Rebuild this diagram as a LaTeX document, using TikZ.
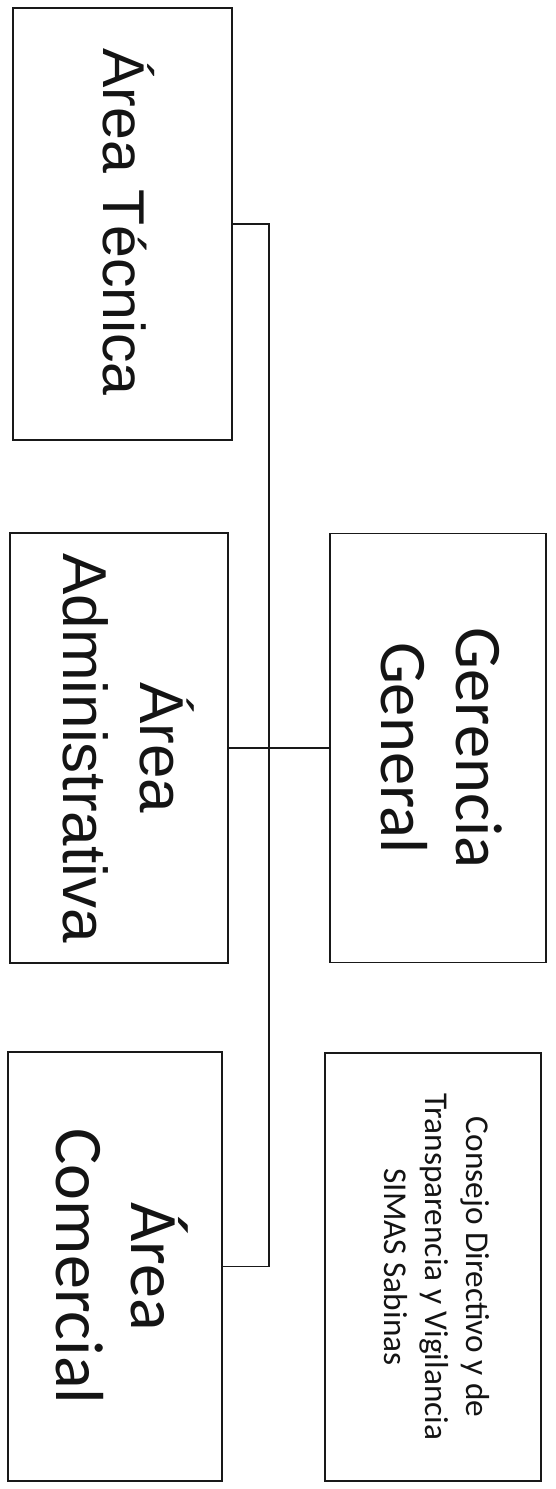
\documentclass[tikz,border=0pt]{standalone}
\usepackage{fontspec}
\newfontfamily\arialf{Liberation Sans}
\newfontfamily\calibrif{Carlito}
\begin{document}
\begin{tikzpicture}[x=1pt,y=-1pt,
  orgbox/.style={draw=black!90, line width=1.6pt, rectangle, rotate=-90,
    minimum width=#1, inner sep=0pt},
  orgbox/.default=430pt,
  orgtext/.style={rotate=-90, inner sep=0pt, align=center, text=black!92},
  link/.style={draw=black!90, line width=1.3pt}]
\useasboundingbox (0,0) rectangle (556,1489);
\node[orgbox=432pt, minimum height=219pt] (b1) at (122.5,224) {};
\node[orgbox=430pt, minimum height=218pt] (b2) at (119,748) {};
\node[orgbox=429pt, minimum height=216pt] (b3) at (438,748) {};
\node[orgbox=429pt, minimum height=214pt] (b4) at (115,1266.5) {};
\node[orgbox=428pt, minimum height=216pt] (b5) at (433,1267) {};
\node[orgtext, font=\arialf\fontsize{59}{70}\selectfont, xshift=-2pt, yshift=6pt] (t1) at (b1.center) {Área Técnica};
\node[orgtext, font=\arialf\fontsize{62}{77}\selectfont, yshift=10pt] (t2) at (b2.center) {Área\\Administrativa};
\node[orgtext, font=\calibrif\fontsize{66.5}{75}\selectfont, yshift=4pt] (t3) at (b3.center) {Gerencia\\General};
\node[orgtext, font=\calibrif\fontsize{68}{75}\selectfont, yshift=7pt] (t4) at (b4.center) {Área\\Comercial};
\node[orgtext, font=\calibrif\fontsize{33.3}{41}\selectfont, yshift=4pt] (t5) at (b5.center) {Consejo Directivo y de\\Transparencia y Vigilancia\\SIMAS Sabinas};
\coordinate (sp) at (269,748);
\draw[link] (b1.north) -| (sp) |- (b4.north);
\draw[link] (b2.north) -- (b3.south);
\end{tikzpicture}
\end{document}
